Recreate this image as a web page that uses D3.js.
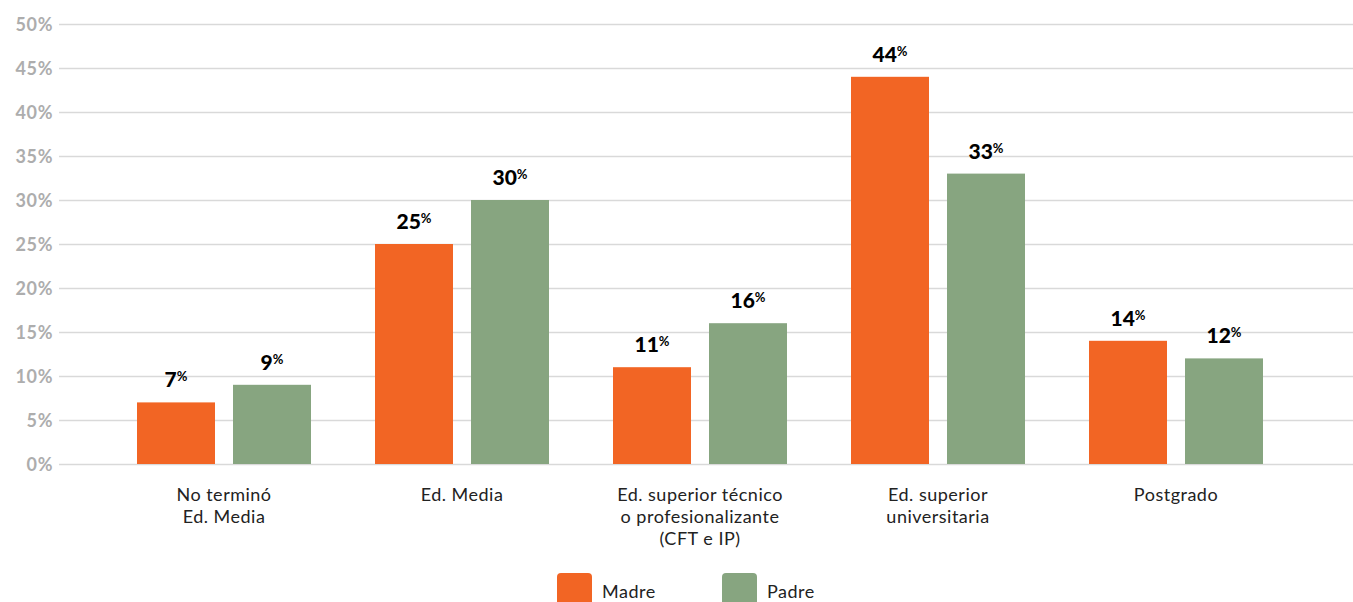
<!DOCTYPE html>
<html><head><meta charset="utf-8">
<script src="https://cdn.jsdelivr.net/npm/d3@7"></script>
<style>body{margin:0;background:#fff}svg{display:block}</style>
</head><body><svg id="c" width="1353" height="602"></svg>
<script>
const categories = [["No terminó","Ed. Media"],["Ed. Media"],["Ed. superior técnico","o profesionalizante","(CFT e IP)"],["Ed. superior","universitaria"],["Postgrado"]];
const series = ["Madre","Padre"];
const madre = [7,25,11,44,14];
const padre = [9,30,16,33,12];
const yTicks = [0,5,10,15,20,25,30,35,40,45,50];
const colors = ["#F26524","#87A580"];

const svg = d3.select("#c");
const font = "Lato, 'Noto Sans', sans-serif";
const y = d3.scaleLinear().domain([0,50]).range([464,24]);
const x0 = d3.scaleBand().domain(d3.range(categories.length)).range([105,1295]);
const x1 = d3.scaleBand().domain(series).range([32,206]).paddingInner(0.1875);

// grid
const yAxis = d3.axisLeft(y).tickValues(yTicks).tickSize(-1294).tickFormat(d=>d+"%");
const g = svg.append("g").attr("transform","translate(59,0)").call(yAxis);
g.select(".domain").remove();
g.selectAll(".tick line").attr("stroke","#d9d9d9").attr("stroke-width",1.5);
g.selectAll(".tick text").attr("x",-6).attr("dy","0.35em").attr("fill","#adadad")
  .style("font-family",font).style("font-weight","700").style("font-size","18px").style("letter-spacing","0.6px");

const vals = [madre,padre];
categories.forEach((c,i)=>{
  series.forEach((s,j)=>{
    const v = vals[j][i];
    const bx = x0(i)+x1(s);
    svg.append("rect").attr("x",bx).attr("y",y(v)).attr("width",x1.bandwidth())
      .attr("height",y(0)-y(v)).attr("fill",colors[j]);
    const t = svg.append("text").attr("x",bx+x1.bandwidth()/2).attr("y",y(v)-15)
      .attr("text-anchor","middle").style("font-family",font).attr("fill","#000");
    t.append("tspan").text(v).style("font-weight","900").style("font-size","21px");
    t.append("tspan").text("%").attr("dy","-6").style("font-weight","700").style("font-size","13px");
  });
  const ct = svg.append("text").attr("x",x0(i)+x0.bandwidth()/2).attr("y",501)
    .attr("text-anchor","middle").style("font-family",font).style("font-size","18px")
    .style("letter-spacing","0.5px").attr("fill","#222");
  c.forEach((line,k)=>ct.append("tspan").attr("x",x0(i)+x0.bandwidth()/2).attr("dy",k?22:0).text(line));
});

// legend
const lx = [557,722];
series.forEach((s,j)=>{
  svg.append("rect").attr("x",lx[j]).attr("y",573).attr("width",35).attr("height",36).attr("rx",4).attr("fill",colors[j]);
  svg.append("text").attr("x",lx[j]+45).attr("y",598).text(s)
    .style("font-family",font).style("font-size","18px").style("letter-spacing","0.5px").attr("fill","#222");
});
</script></body></html>
